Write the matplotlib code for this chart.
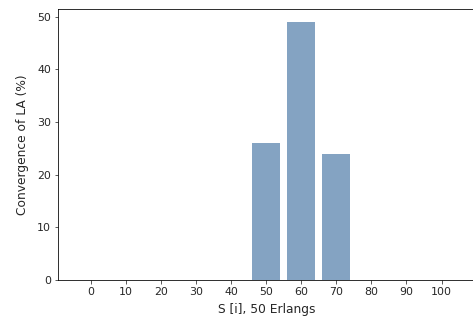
import matplotlib
matplotlib.use("Agg")
import matplotlib.pyplot as plt

# S[i] positions and convergence percentages
servers = [0, 10, 20, 30, 40, 50, 60, 70, 80, 90, 100]
convergence = [0, 0, 0, 0, 0, 26, 49, 24, 0, 0, 0]

fig = plt.figure(figsize=(473 / 72, 320 / 72), dpi=72)
ax = fig.add_axes([58 / 473, 40 / 320, 416.5 / 473, 271 / 320])

ax.bar(servers, convergence, width=8, color='#84a3c2')
ax.set_xticks(servers)
ax.tick_params(labelsize=11, colors='#333333', labelcolor='#262626')
ax.set_xlabel('S [i], 50 Erlangs', fontsize=12.3, color='#262626', labelpad=6)
ax.set_ylabel('Convergence of LA (%)', fontsize=12.3, color='#262626', labelpad=8)

fig.savefig('out.png', dpi=72)
